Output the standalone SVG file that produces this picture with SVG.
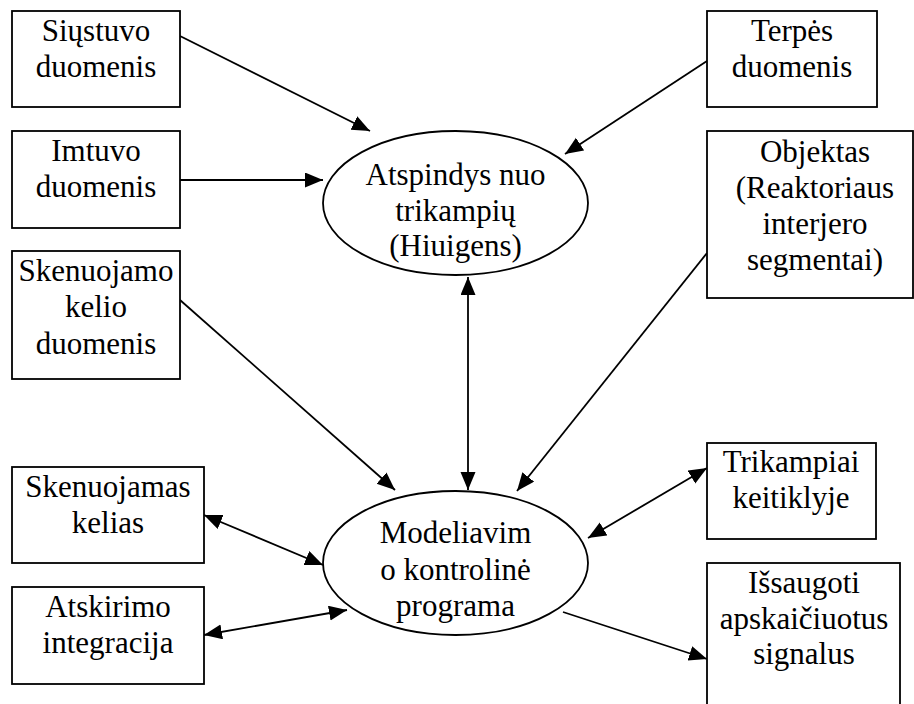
<svg xmlns="http://www.w3.org/2000/svg" width="914" height="704" viewBox="0 0 914 704">
<style>
.box{fill:#fff;stroke:#000;stroke-width:1.8}
.ell{fill:#fff;stroke:#000;stroke-width:1.8}
text{font-family:"Liberation Serif","Times New Roman",serif;font-size:31px;fill:#000;text-anchor:middle}
.c line{stroke:#000;stroke-width:1.8;fill:none}
</style>
<defs>
<marker id="ah" markerUnits="userSpaceOnUse" markerWidth="20" markerHeight="16" refX="18" refY="7.5" orient="auto-start-reverse">
<path d="M0,0 L18,7.5 L0,15 z" fill="#000"/>
</marker>
</defs>
<rect width="914" height="704" fill="#fff"/>
<g class="c" id="connectors">
<line x1="180" y1="36" x2="370" y2="131" marker-end="url(#ah)"/>
<line x1="180" y1="180" x2="323" y2="180" marker-end="url(#ah)"/>
<line x1="707" y1="61" x2="565" y2="154" marker-end="url(#ah)"/>
<line x1="468" y1="277" x2="468" y2="490" marker-start="url(#ah)" marker-end="url(#ah)"/>
<line x1="180" y1="300" x2="395" y2="490" marker-end="url(#ah)"/>
<line x1="707" y1="253" x2="517" y2="491" marker-end="url(#ah)"/>
<line x1="204" y1="515" x2="323" y2="565" marker-start="url(#ah)" marker-end="url(#ah)"/>
<line x1="204" y1="635" x2="347" y2="610" marker-start="url(#ah)" marker-end="url(#ah)"/>
<line x1="588" y1="538" x2="707" y2="468" marker-start="url(#ah)" marker-end="url(#ah)"/>
<line x1="563" y1="612" x2="707" y2="659" marker-end="url(#ah)"/>
</g>
<g id="n-siustuvo"><rect class="box" x="12" y="11" width="168" height="96"/><text x="96" y="41">Siųstuvo</text><text x="96" y="77">duomenis</text></g>
<g id="n-imtuvo"><rect class="box" x="12" y="131" width="168" height="97"/><text x="96" y="161">Imtuvo</text><text x="96" y="197">duomenis</text></g>
<g id="n-skenuojamo"><rect class="box" x="12" y="251" width="168" height="128"/><text x="96" y="281">Skenuojamo</text><text x="96" y="317">kelio</text><text x="96" y="354">duomenis</text></g>
<g id="n-kelias"><rect class="box" x="12" y="467" width="192" height="96"/><text x="108" y="497">Skenuojamas</text><text x="108" y="533">kelias</text></g>
<g id="n-atskirimo"><rect class="box" x="12" y="587" width="192" height="97"/><text x="108" y="617">Atskirimo</text><text x="108" y="653">integracija</text></g>
<g id="n-terpes"><rect class="box" x="707" y="11" width="170" height="96"/><text x="792" y="41">Terpės</text><text x="792" y="77">duomenis</text></g>
<g id="n-objektas"><rect class="box" x="707" y="131" width="206" height="167"/><text x="815" y="162">Objektas</text><text x="815" y="198">(Reaktoriaus</text><text x="815" y="234">interjero</text><text x="815" y="270">segmentai)</text></g>
<g id="n-trikampiai"><rect class="box" x="707" y="443" width="169" height="96"/><text x="791" y="472">Trikampiai</text><text x="791" y="508">keitiklyje</text></g>
<g id="n-issaugoti"><rect class="box" x="707" y="563" width="193" height="150"/><text x="804" y="593">Išsaugoti</text><text x="804" y="629">apskaičiuotus</text><text x="804" y="664">signalus</text></g>
<g id="n-atspindys"><ellipse class="ell" cx="455.5" cy="203" rx="132.5" ry="72"/><text x="455.5" y="185">Atspindys nuo</text><text x="455.5" y="221">trikampių</text><text x="455.5" y="256">(Hiuigens)</text></g>
<g id="n-modeliavimo"><ellipse class="ell" cx="455.5" cy="563" rx="132.5" ry="72"/><text x="455.5" y="543">Modeliavim</text><text x="455.5" y="580">o kontrolinė</text><text x="455.5" y="616">programa</text></g>
</svg>
